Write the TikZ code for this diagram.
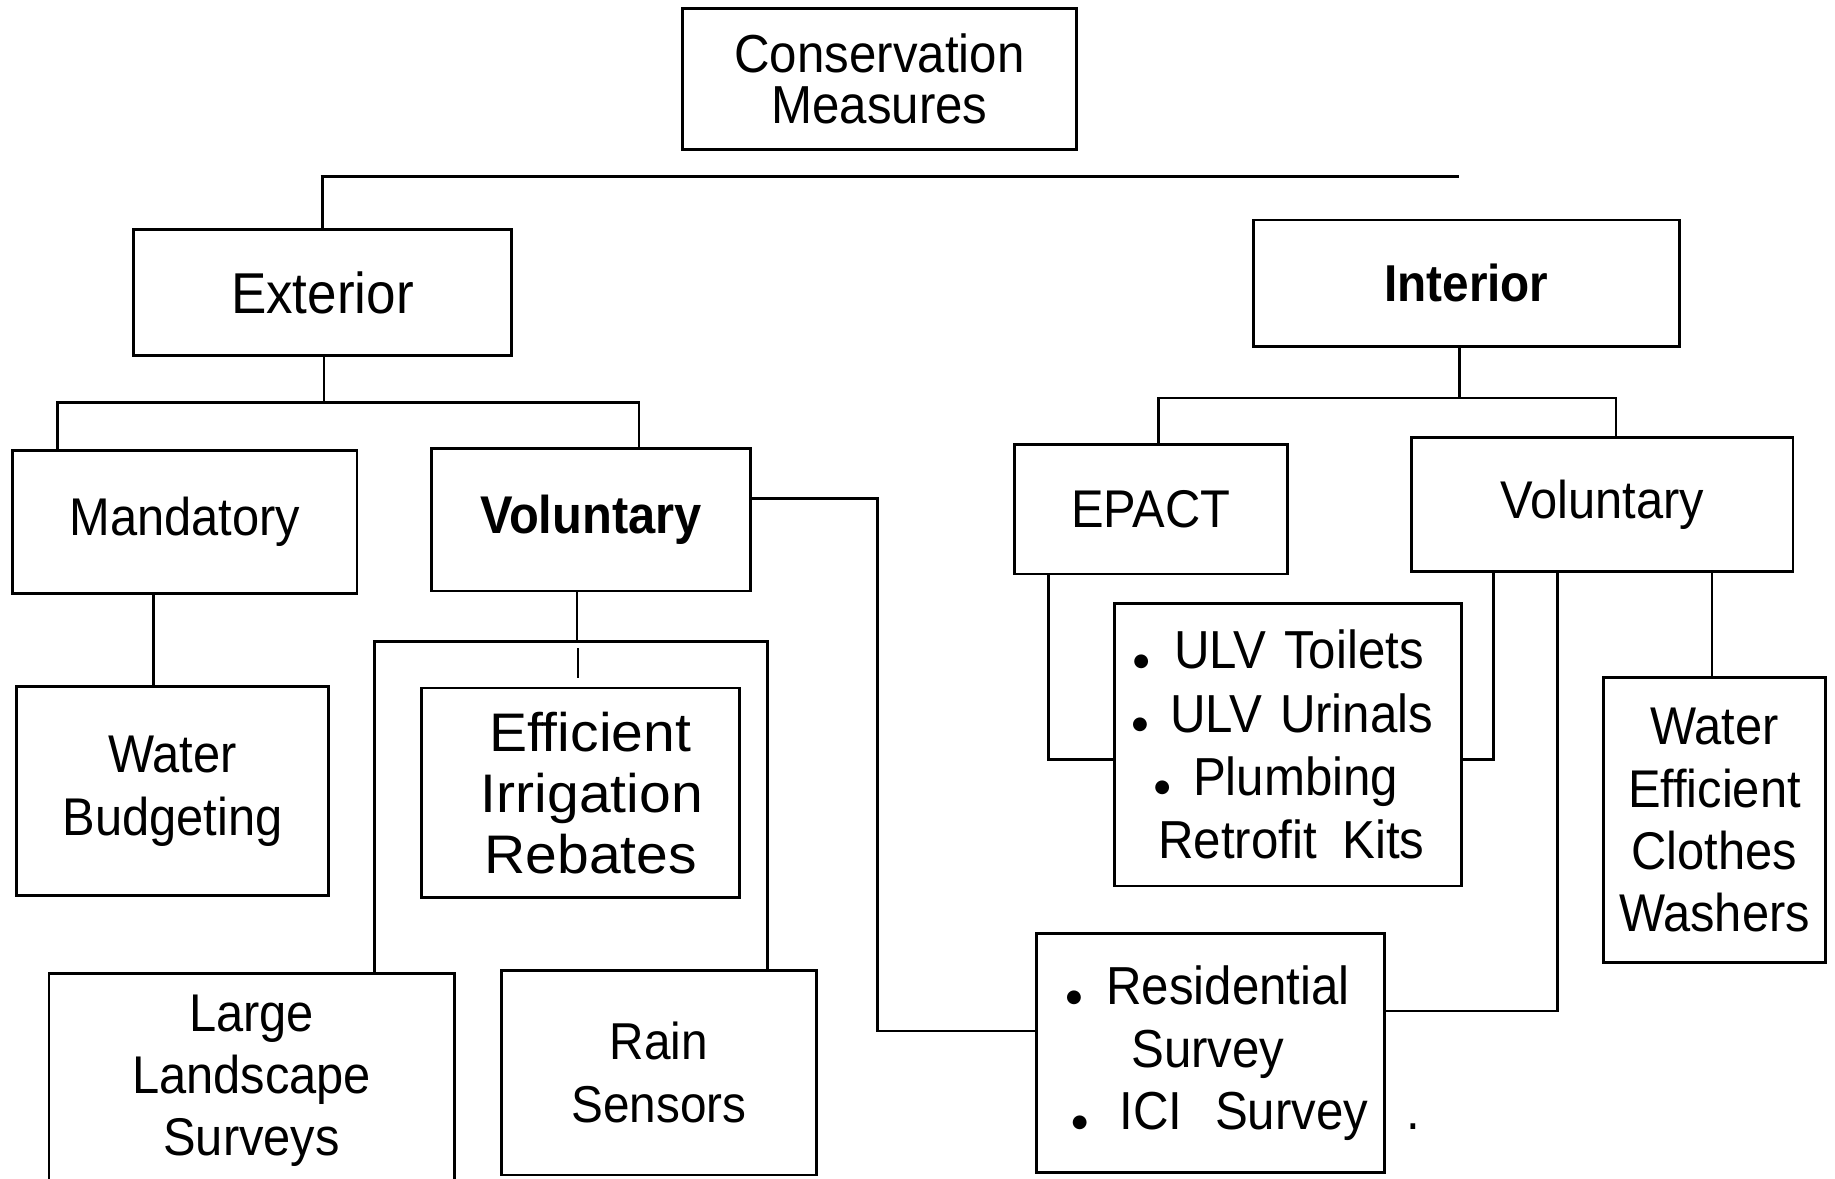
\documentclass[tikz,border=0pt]{standalone}
\usepackage{fontspec}
\setmainfont[FakeStretch=0.92]{Liberation Sans}
\newfontfamily\widefont[FakeStretch=1.05]{Liberation Sans}
\newfontfamily\symfont{DejaVu Sans}
\usepackage{tikz}

\newcommand{\fs}[2]{\fontsize{#1}{#2}\selectfont}
\newcommand{\dotb}{\raisebox{0.6pt}{\symfont\fontsize{4.4}{5}\selectfont ●}}
\newcommand{\bul}[1]{\makebox[#1][l]{\dotb}}

\tikzset{
    box/.style={draw, line width=0.7pt, inner sep=0pt, align=center},
    link/.style={line width=0.6pt},
}

\begin{document}
\begin{tikzpicture}[x=0.01cm, y=-0.01cm]

    \clip (0,0) rectangle (1568,1007);

    \node[box, text width=33.7mm, minimum height=12.1mm, font=\fs{13}{12.2}] (cons) at (751.5,67.5) {Conservation\\Measures};

    \node[box, text width=32.3mm, minimum height=10.8mm, font=\fs{14}{16}] (ext) at (275.5,250) {Exterior};
    \node[box, text width=36.4mm, minimum height=10.8mm, font=\fs{12.6}{15}\bfseries] (int) at (1253,242) {Interior};

    \node[box, text width=29.4mm, minimum height=12.2mm, font=\fs{12.9}{15}] (mand) at (158,446) {Mandatory};
    \node[box, text width=27.2mm, minimum height=12.2mm, font=\fs{12.9}{15}\bfseries] (volx) at (505,444) {Voluntary};
    \node[box, text width=23.3mm, minimum height=11.1mm, font=\fs{12.9}{15}] (epact) at (983.5,435) {EPACT};
    \node[box, text width=32.6mm, minimum height=11.4mm, font=\fs{12.9}{15}] (voli) at (1369,431) {Voluntary};

    \node[box, text width=26.7mm, minimum height=17.8mm, font=\fs{12.9}{15.4}] (wb) at (147.5,676) {Water\\Budgeting};
    \node[box, align=left, text width=27.2mm, minimum height=17.9mm, font=\widefont\fs{13.2}{14.8}] (eir) at (496,677.5)
        {\hspace*{5.8mm}Efficient\\
         \hspace*{5.1mm}Irrigation\\
         \hspace*{5.4mm}Rebates};
    \node[box, text width=34.6mm, minimum height=18.3mm, font=\fs{12.9}{15.1}] (lls) at (215,923.5) {Large\\Landscape\\Surveys};
    \node[box, text width=26.9mm, minimum height=17.5mm, font=\fs{12.6}{15.4}] (rain) at (563,916.5) {Rain\\Sensors};

    \node[box, align=left, text width=29.65mm, minimum height=24.14mm, font=\fs{13}{15.4}] (ulv) at (1100.75,636.3)
        {\hspace*{1.6mm}\bul{3.5mm}ULV Toilets\\
         \hspace*{1.5mm}\bul{3.24mm}ULV Urinals\\
         \hspace*{3.4mm}\bul{3.3mm}Plumbing\\
         \hspace*{3.72mm}Retrofit\hspace{2.2mm}Kits};
    \node[box, align=left, text width=29.7mm, minimum height=20.4mm, font=\fs{13}{15.2}] (res) at (1034.5,900)
        {\hspace*{2.5mm}\bul{3.44mm}Residential\\
         \hspace*{8.08mm}Survey\\
         \hspace*{3mm}\bul{4.06mm}ICI\hspace{2.8mm}Survey\rlap{\hspace{3.3mm}.}};
    \node[box, text width=19mm, minimum height=24.36mm, font=\fs{12.9}{15.1}] (wecw) at (1465,700.8) {Water\\Efficient\\Clothes\\Washers};

    \coordinate (topL) at (274,151);
    \coordinate (topR) at (1247,151);
    \coordinate (extL) at (49,344);
    \coordinate (extR) at (546,344);
    \coordinate (extM) at (277,344);
    \coordinate (mdC) at (131,0);
    \coordinate (vxL) at (320,548);
    \coordinate (vxR) at (656,548);
    \coordinate (vxM) at (493,548);
    \coordinate (stubA) at (494,554);
    \coordinate (stubB) at (494,579);
    \coordinate (svA) at (750,426);
    \coordinate (svB) at (750,881);
    \coordinate (intL) at (990,340);
    \coordinate (intR) at (1381,340);
    \coordinate (intM) at (1247,340);
    \coordinate (epB) at (896,649);
    \coordinate (viA) at (1276,649);
    \coordinate (viB) at (1331,864);
    \coordinate (viC) at (1463,0);

    \draw[link] (topL) -- (topR);
    \draw[link] (ext.north) -- (ext.north |- topL);
    \draw[link] (extM |- ext.south) -- (extM);
    \draw[link] (extL |- mand.north) -- (extL) -- (extR) -- (extR |- volx.north);
    \draw[link] (mdC |- mand.south) -- (mdC |- wb.north);
    \draw[link] (vxM |- volx.south) -- (vxM);
    \draw[link] (vxL |- lls.north) -- (vxL) -- (vxR) -- (vxR |- rain.north);
    \draw[link] (stubA) -- (stubB);
    \draw[link] (svA -| volx.east) -- (svA) -- (svB) -- (svB -| res.west);

    \draw[link] (intM |- int.south) -- (intM);
    \draw[link] (intL |- epact.north) -- (intL) -- (intR) -- (intR |- voli.north);
    \draw[link] (epB |- epact.south) -- (epB) -- (epB -| ulv.west);
    \draw[link] (viA |- voli.south) -- (viA) -- (viA -| ulv.east);
    \draw[link] (viB |- voli.south) -- (viB) -- (viB -| res.east);
    \draw[link] (viC |- voli.south) -- (viC |- wecw.north);

\end{tikzpicture}
\end{document}
